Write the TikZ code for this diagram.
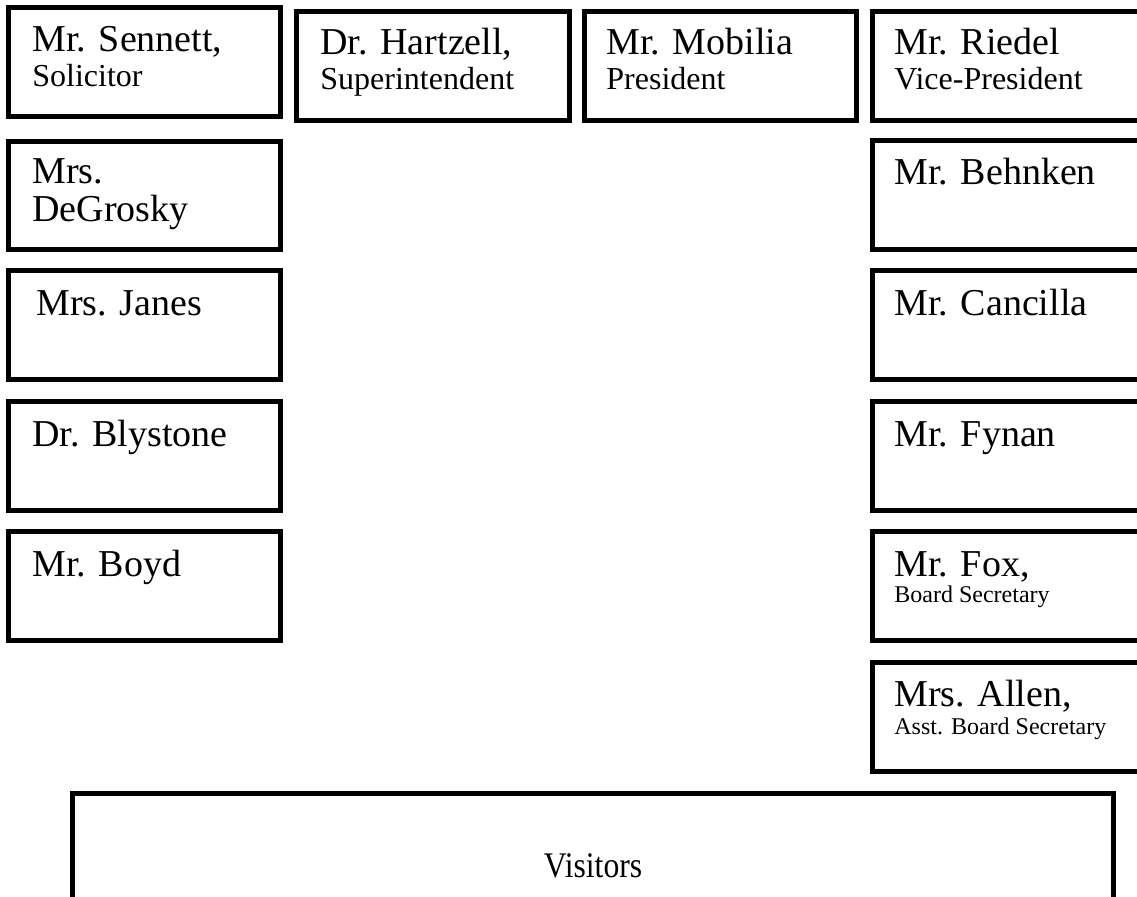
\documentclass[tikz,border=0pt]{standalone}
\usepackage{fontspec}
\setmainfont{Liberation Serif}
\usetikzlibrary{fit}
\tikzset{
  seat/.style={draw=black, line width=2.5pt, inner sep=0pt, rectangle},
  nm/.style={anchor=base west, inner sep=0pt, font=\fontsize{19}{21}\selectfont},
  role/.style={anchor=base west, inner sep=0pt, font=\fontsize{16}{18}\selectfont},
  small/.style={anchor=base west, inner sep=0pt, font=\fontsize{12}{14}\selectfont},
  big/.style={anchor=base, inner sep=0pt, font=\fontsize{18}{20}\selectfont},
}
\begin{document}
\begin{tikzpicture}[x=0.5pt,y=-0.5pt]
\useasboundingbox (0,0) rectangle (1137,896);
\clip (0,0) rectangle (1137,896);
% top row
\node[seat, fit={(8.5,7.5) (280.5,116.5)}] (sennett) {};
\node[seat, fit={(296.5,11.5) (569.5,120.5)}] (hartzell) {};
\node[seat, fit={(584.5,11.5) (856.5,120.5)}] (mobilia) {};
\node[seat, fit={(872.5,11.5) (1150,120.5)}] (riedel) {};
% left column
\node[seat, fit={(8.5,141.5) (280.5,249.5)}] (degrosky) {};
\node[seat, fit={(8.5,270.5) (280.5,379.5)}] (janes) {};
\node[seat, fit={(8.5,401.5) (280.5,510.5)}] (blystone) {};
\node[seat, fit={(8.5,531.5) (280.5,640.5)}] (boyd) {};
% right column
\node[seat, fit={(872.5,140.5) (1150,249.5)}] (behnken) {};
\node[seat, fit={(872.5,270.5) (1150,379.5)}] (cancilla) {};
\node[seat, fit={(872.5,401.5) (1150,510.5)}] (fynan) {};
\node[seat, fit={(872.5,531.5) (1150,640.5)}] (fox) {};
\node[seat, fit={(872.5,662.5) (1150,771.5)}] (allen) {};
% visitors
\node[seat, fit={(72.5,793.5) (1113.5,930)}] (visitors) {};
% texts
\node[nm] (tSennett) at (32,51) {Mr. Sennett,};
\node[role] (tSolicitor) at (32,86) {Solicitor};
\node[nm] (tHartzell) at (320,54) {Dr. Hartzell,};
\node[role] (tSuper) at (320,89) {Superintendent};
\node[nm] (tMobilia) at (606,54) {Mr. Mobilia};
\node[role] (tPres) at (606,89) {President};
\node[nm] (tRiedel) at (894,54) {Mr. Riedel};
\node[role] (tVice) at (894,89) {Vice-President};
\node[nm] (tMrs) at (32,183) {Mrs.};
\node[nm] (tDeGrosky) at (32,221) {DeGrosky};
\node[nm] (tJanes) at (36,315) {Mrs. Janes};
\node[nm] (tBlystone) at (32,446) {Dr. Blystone};
\node[nm] (tBoyd) at (32,576) {Mr. Boyd};
\node[nm] (tBehnken) at (894,184) {Mr. Behnken};
\node[nm] (tCancilla) at (894,315) {Mr. Cancilla};
\node[nm] (tFynan) at (894,446) {Mr. Fynan};
\node[nm] (tFox) at (894,576) {Mr. Fox,};
\node[small] (tBoardSec) at (894,602) {Board Secretary};
\node[nm] (tAllen) at (894,706) {Mrs. Allen,};
\node[small] (tAsst) at (894,734) {Asst. Board Secretary};
\node[big] (tVisitors) at (593,877) {\scalebox{0.88}[1]{Visitors}};
\end{tikzpicture}
\end{document}
